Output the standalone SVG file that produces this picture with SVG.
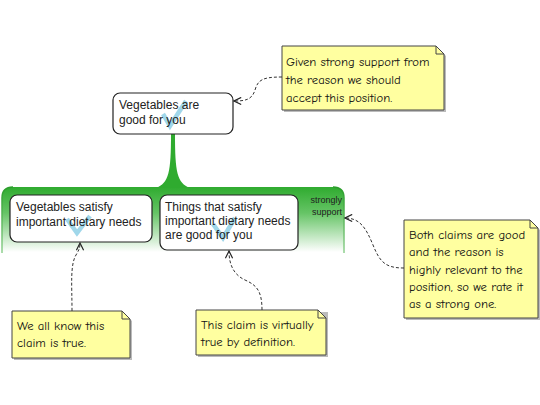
<svg xmlns="http://www.w3.org/2000/svg" width="540" height="405" viewBox="0 0 540 405">
<defs>
<linearGradient id="gfade" x1="0" y1="187" x2="0" y2="252" gradientUnits="userSpaceOnUse">
<stop offset="0" stop-color="#2fab2f"/>
<stop offset="0.4" stop-color="#66c466"/>
<stop offset="1" stop-color="#ffffff"/>
</linearGradient>
<linearGradient id="gedge" x1="0" y1="187" x2="0" y2="252" gradientUnits="userSpaceOnUse">
<stop offset="0" stop-color="#2a9e2a"/>
<stop offset="1" stop-color="#8fd08f"/>
</linearGradient>
<marker id="arr" viewBox="0 0 10 10" refX="9" refY="5" markerWidth="9" markerHeight="9" orient="auto" markerUnits="userSpaceOnUse">
<path d="M1,1 L9,5 L1,9" fill="none" stroke="#222" stroke-width="1.3"/>
</marker>
</defs>
<style>
.node{fill:#fff;stroke:#222;stroke-width:1.2}
.nt{font-family:"Liberation Sans",Arial,sans-serif;font-size:12px;fill:#222}
.note{fill:#ffffa0;stroke:#444;stroke-width:1}
.shadow{fill:#bbb}
.ntx{font-family:"Comic Sans MS","Comic Neue","Liberation Sans",sans-serif;font-size:12.7px;fill:#111}
.chk{fill:none;stroke:#8fd0e6;stroke-width:4.5;stroke-linecap:butt;stroke-linejoin:miter;opacity:0.85}
.con{fill:none;stroke:#333;stroke-width:1;stroke-dasharray:3,2;marker-end:url(#arr)}
.lbl{font-family:"Liberation Sans",Arial,sans-serif;font-size:9px;fill:#222}
</style>
<rect width="540" height="405" fill="#fff"/>
<g id="reason-group">
<path d="M2,253 L2,198 Q2,187 13,187 L333,187 Q344,187 344,198 L344,253 Z" fill="url(#gfade)"/>
<path d="M2,253 L2,198 Q2,187 13,187 M333,187 Q344,187 344,198 L344,253" fill="none" stroke="url(#gedge)" stroke-width="1.5"/>
<path d="M171,134 L175,134 C175,172 177,183 190,188 L156,188 C169,183 171,172 171,134 Z" fill="#2fab2f"/>
<text class="lbl" x="342" y="203" text-anchor="end">strongly</text>
<text class="lbl" x="342" y="215" text-anchor="end">support</text>
</g>
<g id="claim-main">
<rect class="node" x="113" y="93" width="120" height="41" rx="7"/>
<polyline class="chk" points="163,114 170,126 186,101"/>
<text class="nt" x="119" y="109">Vegetables are</text>
<text class="nt" x="119" y="124">good for you</text>
</g>
<g id="claim-a">
<rect class="node" x="10" y="195" width="142" height="47" rx="7"/>
<polyline class="chk" points="67,219 77,233 90,216"/>
<text class="nt" x="16" y="211">Vegetables satisfy</text>
<text class="nt" x="16" y="226">important dietary needs</text>
</g>
<g id="claim-b">
<rect class="node" x="160" y="195" width="138" height="55" rx="7"/>
<polyline class="chk" points="213,224 223,238 235,218"/>
<text class="nt" x="165" y="211">Things that satisfy</text>
<text class="nt" x="165" y="225">important dietary needs</text>
<text class="nt" x="165" y="239">are good for you</text>
</g>
<g id="note-top">
<path class="shadow" d="M284,48 L438,48 L446,56 L446,112 L284,112 Z"/>
<path class="note" d="M282,46 L436,46 L444,54 L444,110 L282,110 Z"/>
<path d="M436,46 L436,54 L444,54" fill="none" stroke="#444" stroke-width="1"/>
<text class="ntx" x="286" y="66">Given strong support from</text>
<text class="ntx" x="286" y="84">the reason we should</text>
<text class="ntx" x="286" y="102">accept this position.</text>
</g>
<g id="note-right">
<path class="shadow" d="M406,222 L532,222 L540,230 L540,320 L406,320 Z"/>
<path class="note" d="M404,220 L530,220 L538,228 L538,318 L404,318 Z"/>
<path d="M530,220 L530,228 L538,228" fill="none" stroke="#444" stroke-width="1"/>
<text class="ntx" x="409" y="239">Both claims are good</text>
<text class="ntx" x="409" y="256">and the reason is</text>
<text class="ntx" x="409" y="274">highly relevant to the</text>
<text class="ntx" x="409" y="291">position, so we rate it</text>
<text class="ntx" x="409" y="308">as a strong one.</text>
</g>
<g id="note-left">
<path class="shadow" d="M14,313 L124,313 L132,321 L132,360 L14,360 Z"/>
<path class="note" d="M12,311 L122,311 L130,319 L130,358 L12,358 Z"/>
<path d="M122,311 L122,319 L130,319" fill="none" stroke="#444" stroke-width="1"/>
<text class="ntx" x="17" y="330">We all know this</text>
<text class="ntx" x="17" y="347">claim is true.</text>
</g>
<g id="note-mid">
<path class="shadow" d="M198,312 L328,312 L328,357 L198,357 Z"/>
<path class="note" d="M196,310 L318,310 L326,318 L326,355 L196,355 Z"/>
<path d="M318,310 L318,318 L326,318" fill="none" stroke="#444" stroke-width="1"/>
<text class="ntx" x="201" y="329">This claim is virtually</text>
<text class="ntx" x="201" y="346">true by definition.</text>
</g>
<g id="connectors">
<path class="con" d="M282,77 C262,77 258,80 255,90 C252,100 245,101 234,101"/>
<path class="con" d="M404,268 C385,268 380,262 373,245 C366,228 360,218 345,218"/>
<path class="con" d="M72,311 C72,285 70,265 76,255 C79,250 80,248 80,243"/>
<path class="con" d="M262,310 C262,290 256,285 245,280 C232,274 229,262 229,251"/>
</g>
</svg>
